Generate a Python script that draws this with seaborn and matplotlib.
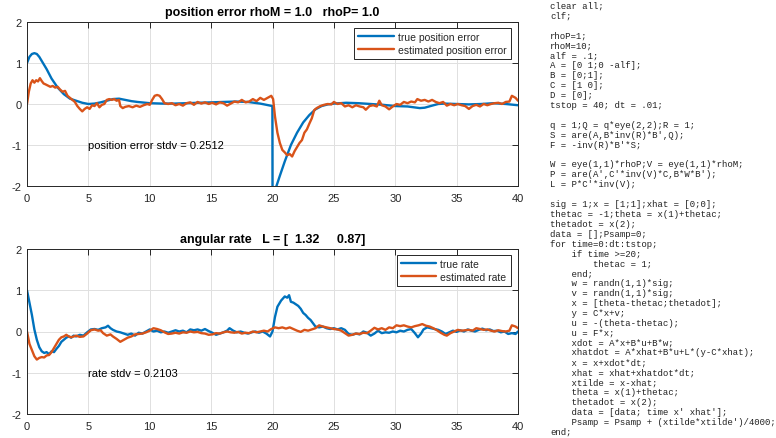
import numpy as np
import pandas as pd
import matplotlib
matplotlib.use("Agg")
import matplotlib.pyplot as plt
import seaborn as sns

# ---------------- data ----------------
t_pos_true = [0, 0.2, 0.4, 0.6, 0.8, 1.0, 1.3, 1.6, 2.0, 2.5, 3.0, 3.5, 4.0, 4.5, 5.0, 5.5, 6.0, 6.5, 7.0, 7.5,
              8.0, 8.5, 9.0, 10.0, 11.0, 12.0, 13.0, 14.0, 15.0, 16.0, 17.0, 18.0, 19.0, 19.5, 19.99, 20.0,
              20.15, 20.3, 20.6, 21.0, 21.5, 22.0, 22.5, 23.0, 23.5, 24.0, 24.5, 25.0, 26.0, 27.0, 28.0, 29.0,
              30.0, 31.0, 31.5, 32.0, 32.4, 33.0, 33.5, 34.0, 35.0, 36.0, 37.0, 38.0, 39.0, 40.0]
v_pos_true = [1.0, 1.15, 1.22, 1.24, 1.22, 1.15, 1.0, 0.85, 0.62, 0.4, 0.24, 0.13, 0.08, 0.03, 0.0, 0.01, 0.04,
              0.08, 0.12, 0.13, 0.1, 0.07, 0.05, 0.02, 0.01, 0.01, 0.02, 0.03, 0.04, 0.05, 0.06, 0.05, 0.01,
              -0.02, -0.05, -2.05, -2.15, -2.02, -1.75, -1.4, -1.0, -0.7, -0.45, -0.27, -0.13, -0.05, -0.01,
              0.01, 0.03, 0.02, 0.0, -0.02, -0.05, -0.06, -0.08, -0.1, -0.09, -0.04, 0.0, 0.01, 0.0, -0.01,
              0.0, 0.02, 0.0, -0.03]

t_pos_est = [0, 0.15, 0.3, 0.45, 0.6, 0.75, 0.9, 1.05, 1.2, 1.35, 1.5, 1.7, 1.9, 2.1, 2.3, 2.5, 2.7, 2.9, 3.1,
             3.3, 3.5, 3.7, 3.9, 4.1, 4.3, 4.5, 4.7, 4.9, 5.1, 5.3, 5.5, 5.7, 5.9, 6.1, 6.3, 6.5, 6.7, 6.9, 7.1,
             7.3, 7.5, 7.6, 7.8, 8.0, 8.3, 8.6, 8.9, 9.2, 9.5, 9.8, 10.0, 10.2, 10.4, 10.6, 10.8, 11.0, 11.2,
             11.5, 11.8, 12.1, 12.4, 12.7, 13.0, 13.3, 13.6, 13.9, 14.2, 14.5, 14.8, 15.1, 15.4, 15.7, 16.0,
             16.3, 16.6, 16.9, 17.2, 17.5, 17.8, 18.1, 18.4, 18.7, 19.0, 19.3, 19.6, 19.9, 20.05, 20.2, 20.4,
             20.6, 20.8, 21.0, 21.2, 21.4, 21.6, 21.8, 22.0, 22.2, 22.4, 22.6, 22.8, 23.0, 23.2, 23.4, 23.6,
             23.9, 24.2, 24.5, 24.8, 25.0, 25.3, 25.6, 25.9, 26.2, 26.5, 26.8, 27.1, 27.4, 27.6, 27.9, 28.2,
             28.5, 28.7, 28.9, 29.2, 29.5, 29.8, 30.1, 30.4, 30.7, 31.0, 31.3, 31.6, 31.8, 32.1, 32.4, 32.7,
             33.0, 33.3, 33.6, 33.9, 34.2, 34.5, 34.8, 35.1, 35.4, 35.7, 36.0, 36.3, 36.6, 36.9, 37.2, 37.5,
             37.8, 38.1, 38.4, 38.7, 39.0, 39.3, 39.5, 39.8, 40.0]
v_pos_est = [0.0, 0.3, 0.5, 0.58, 0.52, 0.58, 0.55, 0.63, 0.56, 0.5, 0.48, 0.45, 0.42, 0.44, 0.4, 0.42, 0.35,
             0.3, 0.32, 0.2, 0.15, 0.1, 0.05, -0.05, -0.12, -0.18, -0.12, -0.08, -0.12, -0.03, -0.05, 0.02,
             -0.08, -0.02, 0.0, 0.1, 0.12, 0.1, 0.12, 0.08, 0.1, -0.05, -0.1, -0.07, -0.05, -0.08, -0.04,
             -0.07, -0.03, 0.0, -0.02, 0.1, 0.2, 0.22, 0.2, 0.12, 0.02, 0.0, 0.02, -0.03, 0.0, -0.04, 0.02,
             0.04, -0.02, 0.05, 0.01, 0.04, 0.0, 0.03, -0.01, 0.04, 0.02, -0.04, 0.01, 0.06, 0.04, 0.1, 0.04,
             0.06, 0.12, 0.07, 0.15, 0.1, 0.15, 0.2, 0.12, -0.3, -0.7, -0.95, -1.12, -1.18, -1.25, -1.22,
             -1.28, -1.15, -1.05, -0.95, -0.88, -0.7, -0.62, -0.48, -0.35, -0.15, -0.1, -0.05, -0.02, 0.0,
             -0.01, 0.05, 0.0, 0.02, -0.06, -0.03, -0.08, -0.03, -0.06, -0.08, -0.14, -0.05, -0.03, -0.06,
             0.08, -0.03, -0.06, -0.13, -0.06, 0.0, -0.02, 0.05, 0.02, 0.06, 0.04, 0.12, 0.08, 0.1, 0.06,
             0.1, 0.05, 0.02, 0.05, -0.04, 0.0, -0.03, 0.0, -0.03, -0.05, -0.12, -0.05, -0.02, -0.06, 0.0,
             -0.03, 0.0, 0.02, 0.03, 0.0, 0.05, 0.06, 0.2, 0.15, 0.08]

t_rate_true = [0, 0.2, 0.4, 0.6, 0.8, 1.0, 1.2, 1.4, 1.6, 1.8, 2.0, 2.2, 2.4, 2.6, 2.8, 3.0, 3.2, 3.4, 3.6, 3.8,
               4.0, 4.3, 4.6, 4.9, 5.2, 5.5, 5.8, 6.1, 6.4, 6.6, 6.8, 7.0, 7.3, 7.6, 7.9, 8.2, 8.5, 8.8, 9.1,
               9.4, 9.7, 10.0, 10.3, 10.6, 10.9, 11.2, 11.5, 11.8, 12.1, 12.4, 12.7, 13.0, 13.3, 13.6, 13.9,
               14.2, 14.5, 14.8, 15.1, 15.4, 15.7, 16.0, 16.3, 16.5, 16.8, 17.1, 17.4, 17.7, 18.0, 18.3, 18.6,
               18.9, 19.2, 19.5, 19.8, 20.0, 20.2, 20.4, 20.7, 21.0, 21.2, 21.35, 21.5, 21.7, 21.9, 22.1, 22.3,
               22.5, 22.7, 22.9, 23.1, 23.3, 23.5, 23.8, 24.1, 24.4, 24.7, 25.0, 25.3, 25.6, 25.9, 26.2, 26.5,
               26.8, 27.1, 27.4, 27.7, 28.0, 28.3, 28.6, 28.9, 29.2, 29.5, 29.8, 30.1, 30.4, 30.7, 31.0, 31.3,
               31.6, 31.85, 32.1, 32.3, 32.6, 32.9, 33.2, 33.5, 33.8, 34.1, 34.4, 34.7, 35.0, 35.3, 35.6, 35.9,
               36.2, 36.5, 36.8, 37.1, 37.4, 37.7, 38.0, 38.3, 38.6, 38.9, 39.2, 39.5, 39.8, 40.0]
v_rate_true = [1.0, 0.7, 0.4, 0.05, -0.2, -0.38, -0.48, -0.52, -0.5, -0.55, -0.48, -0.5, -0.42, -0.35, -0.25,
               -0.2, -0.15, -0.12, -0.15, -0.1, -0.12, -0.08, -0.1, -0.02, 0.05, 0.06, 0.04, 0.08, 0.1, 0.14,
               0.08, 0.04, 0.0, -0.02, -0.05, -0.08, -0.05, -0.1, -0.03, -0.05, 0.0, 0.05, 0.0, 0.02, -0.02,
               0.0, -0.03, 0.0, 0.03, 0.0, 0.02, -0.02, 0.05, 0.03, 0.05, 0.02, 0.06, 0.01, -0.03, -0.08,
               -0.05, -0.02, 0.02, 0.08, 0.02, -0.02, 0.0, -0.03, -0.05, -0.02, 0.0, -0.03, 0.0, -0.05, -0.12,
               0.0, 0.35, 0.6, 0.75, 0.85, 0.82, 0.88, 0.72, 0.7, 0.66, 0.62, 0.55, 0.45, 0.4, 0.33, 0.28, 0.2,
               0.12, 0.1, 0.12, 0.08, 0.06, 0.08, 0.05, 0.08, 0.04, -0.06, -0.08, -0.05, -0.07, 0.0, -0.03,
               -0.1, -0.05, 0.02, -0.04, -0.02, -0.03, 0.0, -0.02, 0.02, 0.0, 0.04, 0.06, -0.04, -0.14, -0.05,
               0.05, 0.1, 0.08, 0.06, 0.04, 0.0, -0.06, -0.02, 0.02, -0.01, 0.03, 0.0, 0.05, 0.02, 0.0, 0.04,
               0.07, 0.03, 0.05, 0.01, 0.02, -0.02, 0.0, -0.06, -0.04, -0.06, 0.0]

t_rate_est = [0, 0.2, 0.4, 0.6, 0.8, 1.0, 1.2, 1.4, 1.6, 1.8, 2.0, 2.2, 2.4, 2.6, 2.8, 3.0, 3.2, 3.4, 3.6, 3.8,
              4.0, 4.3, 4.6, 4.9, 5.2, 5.5, 5.8, 6.0, 6.2, 6.5, 6.8, 7.0, 7.3, 7.6, 7.9, 8.2, 8.5, 8.8, 9.1,
              9.4, 9.7, 10.0, 10.3, 10.6, 10.9, 11.2, 11.5, 11.8, 12.1, 12.4, 12.7, 13.0, 13.3, 13.6, 13.9,
              14.2, 14.5, 14.8, 15.1, 15.4, 15.7, 16.0, 16.3, 16.6, 16.9, 17.2, 17.5, 17.8, 18.1, 18.4, 18.7,
              19.0, 19.3, 19.6, 19.9, 20.2, 20.5, 20.8, 21.1, 21.4, 21.7, 22.0, 22.3, 22.6, 22.9, 23.2, 23.5,
              23.8, 24.1, 24.4, 24.7, 25.0, 25.3, 25.6, 25.9, 26.2, 26.5, 26.8, 27.1, 27.4, 27.7, 28.0, 28.3,
              28.6, 28.9, 29.2, 29.5, 29.8, 30.1, 30.4, 30.7, 31.0, 31.3, 31.6, 31.9, 32.2, 32.5, 32.8, 33.1,
              33.4, 33.7, 34.0, 34.2, 34.5, 34.8, 35.1, 35.4, 35.7, 36.0, 36.3, 36.6, 36.9, 37.2, 37.5, 37.8,
              38.1, 38.4, 38.7, 39.0, 39.3, 39.5, 39.8, 40.0]
v_rate_est = [0.0, -0.3, -0.45, -0.6, -0.68, -0.64, -0.62, -0.63, -0.58, -0.57, -0.5, -0.4, -0.3, -0.2, -0.14,
              -0.12, -0.08, -0.12, -0.14, -0.12, -0.1, -0.13, -0.12, -0.05, 0.03, 0.05, 0.02, 0.03, -0.04,
              -0.1, -0.07, -0.12, -0.18, -0.25, -0.2, -0.15, -0.12, -0.07, -0.06, -0.05, -0.02, 0.02, 0.08,
              0.06, 0.03, -0.02, -0.06, -0.05, -0.03, -0.05, -0.02, -0.03, 0.0, -0.02, -0.01, -0.04, -0.05,
              -0.08, -0.07, -0.04, -0.05, -0.02, 0.0, -0.02, -0.03, -0.01, -0.05, -0.03, -0.04, 0.0, -0.02,
              0.0, 0.02, 0.0, 0.06, 0.1, 0.08, 0.1, 0.07, 0.1, 0.06, 0.02, -0.01, 0.04, 0.02, 0.05, 0.08,
              0.15, 0.12, 0.1, 0.08, 0.06, 0.05, 0.02, -0.04, -0.1, -0.08, -0.05, -0.06, -0.03, -0.04, 0.02,
              0.09, 0.05, 0.08, 0.04, 0.1, 0.08, 0.15, 0.13, 0.15, 0.12, 0.1, 0.13, 0.15, 0.18, 0.14, 0.12,
              0.08, 0.03, -0.03, -0.08, -0.1, -0.04, 0.0, 0.04, 0.02, 0.03, 0.04, 0.02, 0.08, 0.06, 0.04,
              0.05, 0.02, 0.0, 0.03, 0.01, 0.0, 0.02, 0.15, 0.12, 0.08]

x_ticks = [0, 5, 10, 15, 20, 25, 30, 35, 40]
y_ticks = [-2, -1, 0, 1, 2]

title_top = "position error rhoM = 1.0   rhoP= 1.0"
title_bot = "angular rate   L = [  1.32     0.87]"
note_top = "position error stdv = 0.2512"
note_bot = "rate stdv = 0.2103"
labels_top = ["true position error", "estimated position error"]
labels_bot = ["true rate", "estimated rate"]

code_lines = [
    "clear all;",
    "clf;",
    "",
    "rhoP=1;",
    "rhoM=10;",
    "alf = .1;",
    "A = [0 1;0 -alf];",
    "B = [0;1];",
    "C = [1 0];",
    "D = [0];",
    "tstop = 40; dt = .01;",
    "",
    "q = 1;Q = q*eye(2,2);R = 1;",
    "S = are(A,B*inv(R)*B',Q);",
    "F = -inv(R)*B'*S;",
    "",
    "W = eye(1,1)*rhoP;V = eye(1,1)*rhoM;",
    "P = are(A',C'*inv(V)*C,B*W*B');",
    "L = P*C'*inv(V);",
    "",
    "sig = 1;x = [1;1];xhat = [0;0];",
    "thetac = -1;theta = x(1)+thetac;",
    "thetadot = x(2);",
    "data = [];Psamp=0;",
    "for time=0:dt:tstop;",
    "    if time >=20;",
    "        thetac = 1;",
    "    end;",
    "    w = randn(1,1)*sig;",
    "    v = randn(1,1)*sig;",
    "    x = [theta-thetac;thetadot];",
    "    y = C*x+v;",
    "    u = -(theta-thetac);",
    "    u = F*x;",
    "    xdot = A*x+B*u+B*w;",
    "    xhatdot = A*xhat+B*u+L*(y-C*xhat);",
    "    x = x+xdot*dt;",
    "    xhat = xhat+xhatdot*dt;",
    "    xtilde = x-xhat;",
    "    theta = x(1)+thetac;",
    "    thetadot = x(2);",
    "    data = [data; time x' xhat'];",
    "    Psamp = Psamp + (xtilde*xtilde')/4000;",
    "end;",
]

# ---------------- style ----------------
sns.set_theme(style="white")
plt.rcParams["font.family"] = ["Liberation Sans", "DejaVu Sans"]
plt.rcParams["axes.unicode_minus"] = False

BLUE = "#0072BD"
ORANGE = "#D95319"
AX_COLOR = "#262626"

W, H = 776, 439
fig = plt.figure(figsize=(W / 100, H / 100), dpi=100)


def px_axes(left, top, right, bottom):
    return fig.add_axes([left / W, 1 - bottom / H, (right - left) / W, (bottom - top) / H])


def style_axes(ax, title, note, labels, legend_bbox):
    ax.set_xlim(0, 40)
    ax.set_ylim(-2, 2)
    ax.set_xticks(x_ticks)
    ax.set_yticks(y_ticks)
    ax.set_xlabel("")
    ax.set_ylabel("")
    ax.grid(True, color="#e0e0e0", linewidth=0.7)
    ax.set_axisbelow(True)
    for s in ax.spines.values():
        s.set_color(AX_COLOR)
        s.set_linewidth(0.7)
        s.set_visible(True)
    ax.tick_params(direction="in", top=True, right=True, length=4, width=0.7,
                   colors=AX_COLOR, labelsize=8)
    ax.tick_params(axis="x", pad=5)
    ax.tick_params(axis="y", pad=4)
    ax.set_title(title, fontsize=9, fontweight="bold", color="black", pad=5)
    ax.text(5, -1, note, fontsize=8, color="black", ha="left", va="center")
    leg = ax.legend(labels, loc="upper right", bbox_to_anchor=legend_bbox, fontsize=7.5,
                    frameon=True, fancybox=False, framealpha=1, edgecolor=AX_COLOR,
                    handlelength=3.4, handletextpad=0.4, borderpad=0.4, labelspacing=0.3,
                    borderaxespad=0)
    leg.get_frame().set_linewidth(0.7)


# top axes
ax1 = px_axes(27, 23, 518, 187)
sns.lineplot(x=t_pos_true, y=v_pos_true, ax=ax1, color=BLUE, linewidth=1.7, estimator=None, sort=False)
sns.lineplot(x=t_pos_est, y=v_pos_est, ax=ax1, color=ORANGE, linewidth=1.7, estimator=None, sort=False)
style_axes(ax1, title_top, note_top, labels_top, (0.985, 0.965))

# bottom axes
ax2 = px_axes(27, 250, 518, 415)
sns.lineplot(x=t_rate_true, y=v_rate_true, ax=ax2, color=BLUE, linewidth=1.7, estimator=None, sort=False)
sns.lineplot(x=t_rate_est, y=v_rate_est, ax=ax2, color=ORANGE, linewidth=1.7, estimator=None, sort=False)
style_axes(ax2, title_bot, note_bot, labels_bot, (0.985, 0.965))

# code listing
for i, line in enumerate(code_lines):
    if not line:
        continue
    y_px = 6.5 + i * 9.9
    fig.text(550 / W, 1 - y_px / H, line, family="Liberation Mono", fontsize=6.5,
             color="#222222", ha="left", va="center")

fig.savefig("out.png", dpi=100)
